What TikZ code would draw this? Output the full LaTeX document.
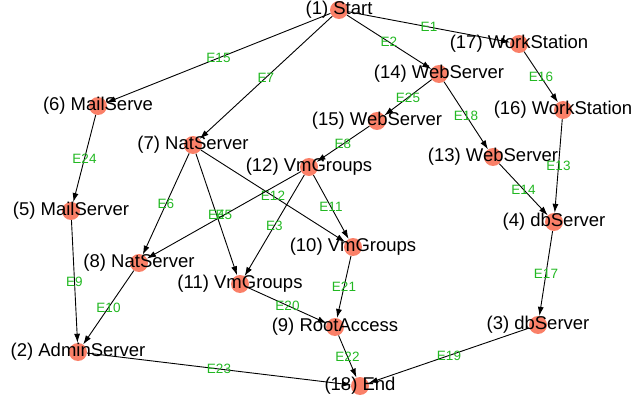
\documentclass[tikz,border=0pt]{standalone}
\usepackage{fontspec}
\setmainfont{Liberation Sans}
\usetikzlibrary{arrows.meta}
\definecolor{nodesalmon}{RGB}{250,128,104}
\definecolor{edgegreen}{RGB}{34,184,34}
\tikzset{
  vtx/.style = {circle, fill=nodesalmon, draw=none, minimum size=18pt, inner sep=0pt},
  vlbl/.style = {font=\fontsize{18.5}{20}\selectfont, inner sep=0pt, text=black},
  elbl/.style = {font=\fontsize{13.5}{15}\selectfont, inner sep=0pt, text=edgegreen},
  EdgeStyle/.style = {draw=black, line width=0.9pt, -{Latex[length=9pt,width=6pt]}}
}
\newcommand{\hostnode}[3]{
  \node[vtx, label={[vlbl]center:#3}] (#1) at (#2) {};
}

\begin{document}
\begin{tikzpicture}[x=1pt, y=-1pt]
  \useasboundingbox (0,0) rectangle (633,404);
  \hostnode{n1}{339,10}{(1) Start}
  \hostnode{n17}{519,44}{(17) WorkStation}
  \hostnode{n14}{439,74}{(14) WebServer}
  \hostnode{n16}{563,110}{(16) WorkStation}
  \hostnode{n15}{377,121}{(15) WebServer}
  \hostnode{n6}{98,106}{(6) MailServe}
  \hostnode{n7}{193,145}{(7) NatServer}
  \hostnode{n12}{309,167}{(12) VmGroups}
  \hostnode{n13}{493,157}{(13) WebServer}
  \hostnode{n5}{71,211}{(5) MailServer}
  \hostnode{n4}{554,222}{(4) dbServer}
  \hostnode{n10}{353,247}{(10) VmGroups}
  \hostnode{n8}{139,263}{(8) NatServer}
  \hostnode{n11}{240,284}{(11) VmGroups}
  \hostnode{n9}{335,327}{(9) RootAccess}
  \hostnode{n3}{538,325}{(3) dbServer}
  \hostnode{n2}{78,352}{(2) AdminServer}
  \hostnode{n18}{360,386}{(18) End}
  \path[EdgeStyle] (n1) -- node[elbl] {E1} (n17);
  \path[EdgeStyle] (n1) -- node[elbl] {E2} (n14);
  \path[EdgeStyle] (n1) -- node[elbl] {E15} (n6);
  \path[EdgeStyle] (n1) -- node[elbl] {E7} (n7);
  \path[EdgeStyle] (n17) -- node[elbl] {E16} (n16);
  \path[EdgeStyle] (n14) -- node[elbl] {E25} (n15);
  \path[EdgeStyle] (n14) -- node[elbl] {E18} (n13);
  \path[EdgeStyle] (n15) -- node[elbl] {E8} (n12);
  \path[EdgeStyle] (n16) -- node[elbl] {E13} (n4);
  \path[EdgeStyle] (n13) -- node[elbl] {E14} (n4);
  \path[EdgeStyle] (n4) -- node[elbl] {E17} (n3);
  \path[EdgeStyle] (n6) -- node[elbl] {E24} (n5);
  \path[EdgeStyle] (n5) -- node[elbl] {E9} (n2);
  \path[EdgeStyle] (n7) -- node[elbl] {E6} (n8);
  \path[EdgeStyle] (n7) -- node[elbl] {E4} (n11);
  \path[EdgeStyle] (n7) -- node[elbl] {E12} (n10);
  \path[EdgeStyle] (n12) -- node[elbl] {E5} (n8);
  \path[EdgeStyle] (n12) -- node[elbl] {E3} (n11);
  \path[EdgeStyle] (n12) -- node[elbl] {E11} (n10);
  \path[EdgeStyle] (n8) -- node[elbl] {E10} (n2);
  \path[EdgeStyle] (n11) -- node[elbl] {E20} (n9);
  \path[EdgeStyle] (n10) -- node[elbl] {E21} (n9);
  \path[EdgeStyle] (n9) -- node[elbl] {E22} (n18);
  \path[EdgeStyle] (n2) -- node[elbl] {E23} (n18);
  \path[EdgeStyle] (n3) -- node[elbl] {E19} (n18);
\end{tikzpicture}
\end{document}
